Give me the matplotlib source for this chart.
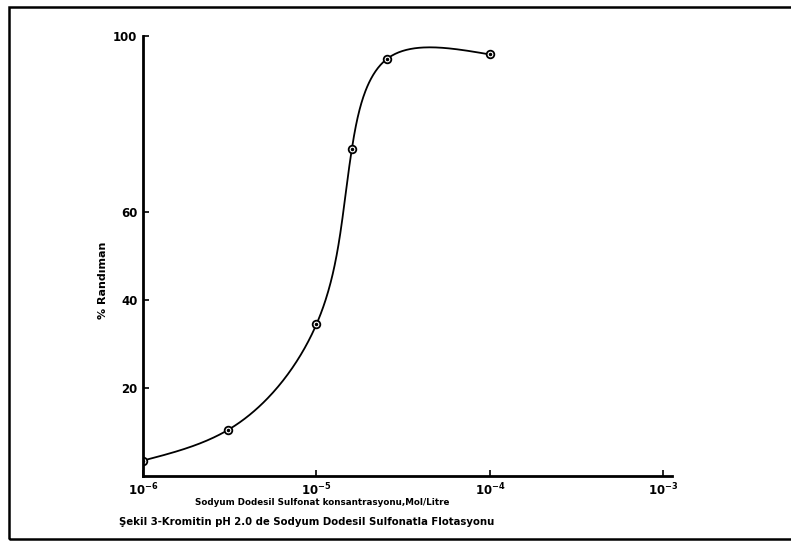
import numpy as np
import matplotlib
matplotlib.use('Agg')
import matplotlib.pyplot as plt
from matplotlib.patches import Rectangle

# SDS concentration (mol/L) and flotation recovery (%)
concentration = [1e-6, 3.1e-6, 1e-5, 1.6e-5, 2.55e-5, 1e-4]
recovery = [3.5, 10.5, 34.5, 74.4, 94.8, 95.8]
x_ticks = [1e-6, 1e-5, 1e-4, 1e-3]
x_tick_labels = [r'$\mathbf{10^{-6}}$', r'$\mathbf{10^{-5}}$',
                 r'$\mathbf{10^{-4}}$', r'$\mathbf{10^{-3}}$']
y_ticks = [20, 40, 60, 100]
y_tick_labels = ['20', '40', '60', '100']


def natural_spline(t, v):
    # second derivatives of a natural cubic spline
    n = len(t)
    h = np.diff(t)
    A = np.zeros((n, n))
    b = np.zeros(n)
    A[0, 0] = A[-1, -1] = 1.0
    for i in range(1, n - 1):
        A[i, i - 1] = h[i - 1]
        A[i, i] = 2 * (h[i - 1] + h[i])
        A[i, i + 1] = h[i]
        b[i] = 6 * ((v[i + 1] - v[i]) / h[i] - (v[i] - v[i - 1]) / h[i - 1])
    return np.linalg.solve(A, b)


def eval_spline(t, v, M, tt):
    i = np.clip(np.searchsorted(t, tt) - 1, 0, len(t) - 2)
    h = t[i + 1] - t[i]
    a = (t[i + 1] - tt) / h
    c = (tt - t[i]) / h
    return (a * v[i] + c * v[i + 1]
            + ((a**3 - a) * M[i] + (c**3 - c) * M[i + 1]) * h**2 / 6)


def smooth_curve(xs, ys, n=400):
    # parametric spline (chord length), like a french curve through the points
    u = np.log10(xs) + 6
    v = np.asarray(ys, dtype=float) / 40.0
    seg = np.hypot(np.diff(u), np.diff(v))
    t = np.concatenate([[0], np.cumsum(seg)])
    tt = np.linspace(0, t[-1], n)
    su = eval_spline(t, u, natural_spline(t, u), tt)
    sv = eval_spline(t, v, natural_spline(t, v), tt)
    return 10 ** (su - 6), sv * 40.0


fig = plt.figure(figsize=(7.91, 5.44), dpi=100)
ax = fig.add_axes([143 / 791, 1 - 476 / 544, (672 - 143) / 791, (476 - 36) / 544])

cx, cy = smooth_curve(concentration, recovery)
ax.plot(cx, cy, color='black', linewidth=1.3)
ax.plot(concentration, recovery, linestyle='none', marker='o', markersize=5.5,
        markerfacecolor='white', markeredgecolor='black', markeredgewidth=1.3)
ax.plot(concentration, recovery, linestyle='none', marker='.', markersize=3, color='black')

ax.set_xscale('log')
ax.set_xlim(1e-6, 1.12e-3)
ax.set_ylim(0, 100)
ax.set_xticks(x_ticks)
ax.set_xticklabels(x_tick_labels)
ax.minorticks_off()
ax.set_yticks(y_ticks)
ax.set_yticklabels(y_tick_labels)
ax.tick_params(direction='in', length=4, width=1.2, labelsize=8.5, pad=4)

for side in ['top', 'right']:
    ax.spines[side].set_visible(False)
for side in ['left', 'bottom']:
    ax.spines[side].set_linewidth(2)
for lab in ax.get_yticklabels():
    lab.set_fontweight('bold')

ax.set_ylabel('% Randıman', fontsize=8, fontweight='bold')
ax.yaxis.set_label_coords((108 - 143) / 529, (476 - 280) / 440)
ax.set_xlabel('Sodyum Dodesil Sulfonat konsantrasyonu,Mol/Litre',
              fontsize=6.3, fontweight='bold')
ax.xaxis.set_label_coords((322 - 143) / 529, (476 - 498) / 440)
fig.text(307 / 791, 1 - 522 / 544,
         'Şekil 3-Kromitin pH 2.0 de Sodyum Dodesil Sulfonatla Flotasyonu',
         ha='center', va='center', fontsize=7.3, fontweight='bold')

# frame around the figure, open on the right like the scan
fig.patches.append(Rectangle((9 / 791, 1 - 539 / 544), 1.0, (539 - 7) / 544,
                             transform=fig.transFigure, fill=False,
                             edgecolor='black', linewidth=1.8))

fig.savefig('out.png', dpi=100)
